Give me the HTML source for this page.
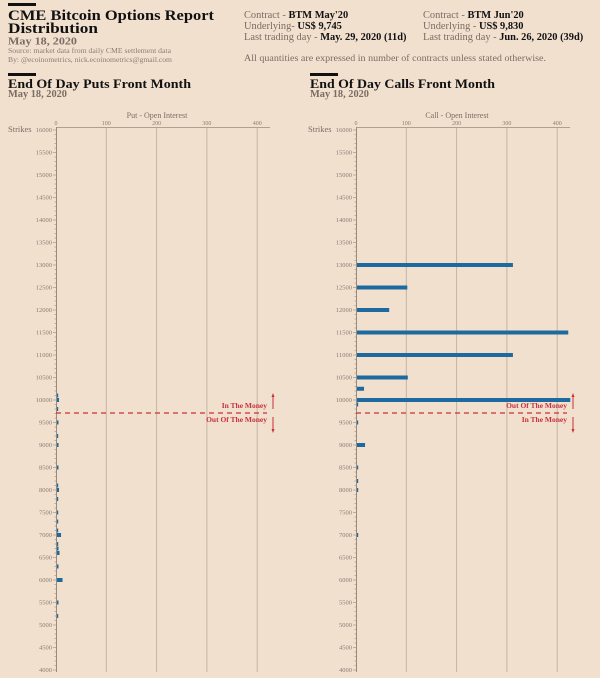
<!DOCTYPE html>
<html><head><meta charset="utf-8"><style>
body{margin:0;background:#f2e0cf;}
svg{display:block;font-family:"Liberation Serif",serif;}
</style></head><body>
<svg id="s" width="600" height="678" xmlns="http://www.w3.org/2000/svg">
<rect width="600" height="678" fill="#f2e0cf"/>
<rect x="8" y="3" width="28" height="3" fill="#111"/>
<text x="8" y="20" font-size="14.5" font-weight="bold" fill="#111" textLength="206" lengthAdjust="spacingAndGlyphs">CME Bitcoin Options Report</text>
<text x="8" y="33" font-size="14.5" font-weight="bold" fill="#111" textLength="90" lengthAdjust="spacingAndGlyphs">Distribution</text>
<text x="8" y="44.5" font-size="10.5" font-weight="bold" fill="#7a6c64" textLength="69" lengthAdjust="spacingAndGlyphs">May 18, 2020</text>
<text x="8" y="53" font-size="7" fill="#8a7c74" textLength="163" lengthAdjust="spacingAndGlyphs">Source: market data from daily CME settlement data</text>
<text x="8" y="62" font-size="7" fill="#8a7c74" textLength="164" lengthAdjust="spacingAndGlyphs">By: @ecoinometrics, nick.ecoinometrics@gmail.com</text>
<g font-size="10.4" fill="#7a6c64">
<text x="244" y="18">Contract - <tspan font-weight="bold" fill="#111">BTM May'20</tspan></text>
<text x="244" y="29">Underlying- <tspan font-weight="bold" fill="#111">US$ 9,745</tspan></text>
<text x="244" y="40">Last trading day - <tspan font-weight="bold" fill="#111">May. 29, 2020 (11d)</tspan></text>
<text x="423" y="18">Contract - <tspan font-weight="bold" fill="#111">BTM Jun'20</tspan></text>
<text x="423" y="29">Underlying - <tspan font-weight="bold" fill="#111">US$ 9,830</tspan></text>
<text x="423" y="40">Last trading day - <tspan font-weight="bold" fill="#111">Jun. 26, 2020 (39d)</tspan></text>
<text x="244" y="61" font-size="9.5" textLength="302" lengthAdjust="spacingAndGlyphs">All quantities are expressed in number of contracts unless stated otherwise.</text>
</g>
<rect x="8" y="73" width="28" height="3" fill="#111"/>
<text x="8" y="88" font-size="12.5" font-weight="bold" fill="#111" textLength="183" lengthAdjust="spacingAndGlyphs">End Of Day Puts Front Month</text>
<text x="8" y="97" font-size="10" font-weight="bold" fill="#7a6c64" textLength="59" lengthAdjust="spacingAndGlyphs">May 18, 2020</text>
<rect x="310" y="73" width="28" height="3" fill="#111"/>
<text x="310" y="88" font-size="12.5" font-weight="bold" fill="#111" textLength="185" lengthAdjust="spacingAndGlyphs">End Of Day Calls Front Month</text>
<text x="310" y="97" font-size="10" font-weight="bold" fill="#7a6c64" textLength="59" lengthAdjust="spacingAndGlyphs">May 18, 2020</text>
<g id="charts"></g>
</svg>
<script>
const NS="http://www.w3.org/2000/svg";const g=document.getElementById('charts');
function el(t,a,txt){const e=document.createElementNS(NS,t);for(const k in a)e.setAttribute(k,a[k]);if(txt!==undefined)e.textContent=txt;g.appendChild(e);return e;}
const Y=v=>130+(16000-v)*0.045;
function chart(x0,title,bars,upTxt,dnTxt){
 const sc=0.503, xe=x0+214;
 el('text',{x:x0+101,y:118,'font-size':8,fill:'#7a6c64','text-anchor':'middle'},title);
 el('text',{x:x0-48,y:132,'font-size':8.5,fill:'#7a6c64'},'Strikes');
 for(let v=0;v<=400;v+=100){const x=x0+v*sc;
  if(v>0)el('line',{x1:x,y1:127,x2:x,y2:672,stroke:'#c4b3a4','stroke-width':1});
  el('text',{x:x,y:125,'font-size':6,fill:'#8a7c74','text-anchor':'middle'},v);}
 el('line',{x1:x0,y1:127.5,x2:xe,y2:127.5,stroke:'#b0a090','stroke-width':1});
 el('line',{x1:x0+0.5,y1:127,x2:x0+0.5,y2:672,stroke:'#9a8a7c','stroke-width':1});
 for(let v=4000;v<=16000;v+=100){const y=Y(v);const maj=v%500==0;
  el('line',{x1:x0-(maj?3:1.5),y1:y,x2:x0,y2:y,stroke:'#9a8a7c','stroke-width':0.6});
  if(maj)el('text',{x:x0-4,y:y+2.2,'font-size':6.5,fill:'#8a7c74','text-anchor':'end'},v);}
 for(const [v,w] of bars){el('rect',{x:x0+1,y:Y(v)-2,width:Math.max(1.2,w*sc),height:4,fill:'#1d6aa0'});}
 const yd=413;
 el('line',{x1:x0,y1:yd,x2:xe-3,y2:yd,stroke:'#c9303a','stroke-width':1.2,'stroke-dasharray':'5,4'});
 el('text',{x:xe-3,y:408,'font-size':7.5,'font-weight':'bold',fill:'#c9303a','text-anchor':'end'},upTxt);
 el('text',{x:xe-3,y:422,'font-size':7.5,'font-weight':'bold',fill:'#c9303a','text-anchor':'end'},dnTxt);
 const ax=xe+3;
 el('line',{x1:ax,y1:396,x2:ax,y2:409,stroke:'#c9303a','stroke-width':1});
 el('polygon',{points:`${ax-1.5},397 ${ax+1.5},397 ${ax},393`,fill:'#c9303a'});
 el('line',{x1:ax,y1:417,x2:ax,y2:430,stroke:'#c9303a','stroke-width':1});
 el('polygon',{points:`${ax-1.5},429 ${ax+1.5},429 ${ax},433`,fill:'#c9303a'});
}
chart(56,'Put - Open Interest',[[10100,2],[10000,4],[9800,2],[9500,3],[9200,2],[9000,3],[8500,3],[8100,2],[8000,4],[7800,1],[7500,1],[7300,1],[7100,2],[7000,8],[6800,1],[6700,3],[6600,5],[6300,3],[6000,11],[5500,3],[5200,2]],'In The Money','Out Of The Money');
chart(356,'Call - Open Interest',[[13000,310],[12500,100],[12000,64],[11500,420],[11000,310],[10500,101],[10250,14],[10000,424],[9900,2],[9500,2],[9000,16],[8500,2],[8200,2],[8000,2],[7000,1]],'Out Of The Money','In The Money');
</script>
</body></html>
